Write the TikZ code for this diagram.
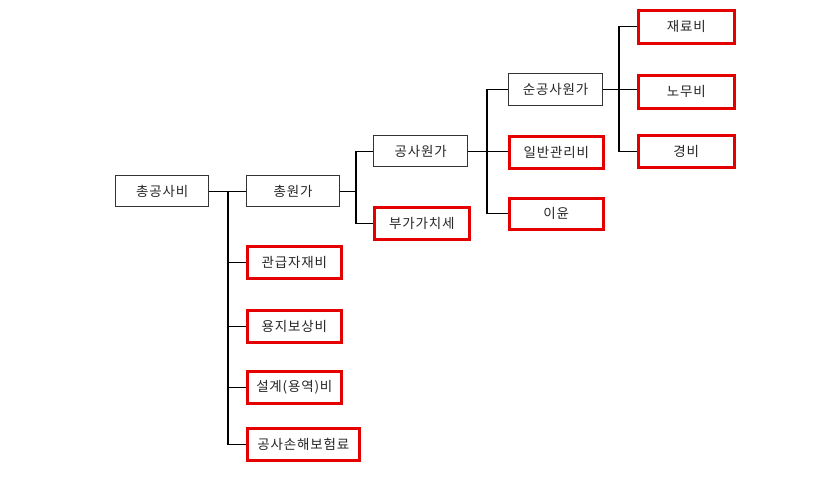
\documentclass[tikz,border=0pt]{standalone}
\usepackage{fontspec}
\setmainfont{Noto Sans CJK KR}[LetterSpace=6]
\begin{document}
\begin{tikzpicture}[x=1pt,y=-1pt,
  base/.style={rectangle,inner sep=0pt,font=\fontsize{13.5}{15}\selectfont,text=black!85,anchor=north west},
  blackbox/.style={base,draw=black!80,line width=1.3pt},
  redbox/.style={base,draw=red!90!black,line width=2.6pt},
  conn/.style={draw=black,line width=1.1pt}]
\useasboundingbox (0,0) rectangle (840,486);
% level 0/1
\node[blackbox,minimum width=93pt,minimum height=31pt] (tot) at (115,175) {총공사비};
\node[blackbox,minimum width=93pt,minimum height=31pt] (won) at (246,175) {총원가};
\node[redbox,minimum width=94pt,minimum height=32pt] (gwan) at (246,245) {관급자재비};
\node[redbox,minimum width=94pt,minimum height=32pt] (yong) at (246,309) {용지보상비};
\node[redbox,minimum width=94pt,minimum height=32pt] (sul) at (246,370) {설계(용역)비};
\node[redbox,minimum width=112pt,minimum height=32pt] (son) at (246,427) {공사손해보험료};
% level 2
\node[blackbox,minimum width=94pt,minimum height=31pt] (gong) at (373,135) {공사원가};
\node[redbox,minimum width=95pt,minimum height=32pt] (bu) at (373,206) {부가가치세};
% level 3
\node[blackbox,minimum width=94pt,minimum height=32pt] (sun) at (508,73) {순공사원가};
\node[redbox,minimum width=94pt,minimum height=32pt] (il) at (508,135) {일반관리비};
\node[redbox,minimum width=94pt,minimum height=31pt] (iyun) at (508,197) {이윤};
% level 4
\node[redbox,minimum width=96pt,minimum height=33pt] (jae) at (637,9) {재료비};
\node[redbox,minimum width=96pt,minimum height=33pt] (no) at (637,74) {노무비};
\node[redbox,minimum width=96pt,minimum height=32pt] (gyeong) at (637,134) {경비};
% bus coordinates
\coordinate (b0) at (228,0);
\coordinate (b1) at (356,0);
\coordinate (b2) at (487,0);
\coordinate (b3) at (619,0);
% connectors
\draw[conn] (tot.east) -- (tot.east -| won.west);
\draw[conn] (won.west -| b0) |- (son.west);
\draw[conn] (b0 |- gwan.west) -- (gwan.west);
\draw[conn] (b0 |- yong.west) -- (yong.west);
\draw[conn] (b0 |- sul.west) -- (sul.west);
\draw[conn] (won.east) -- (won.east -| b1);
\draw[conn] (gong.west) -| (b1 |- bu.west) -- (bu.west);
\draw[conn] (gong.east) -- (gong.east -| il.west);
\draw[conn] (sun.west) -| (b2 |- iyun.west) -- (iyun.west);
\draw[conn] (sun.east) -- (sun.east -| no.west);
\draw[conn] (jae.west) -| (b3 |- gyeong.west) -- (gyeong.west);
\end{tikzpicture}
\end{document}
